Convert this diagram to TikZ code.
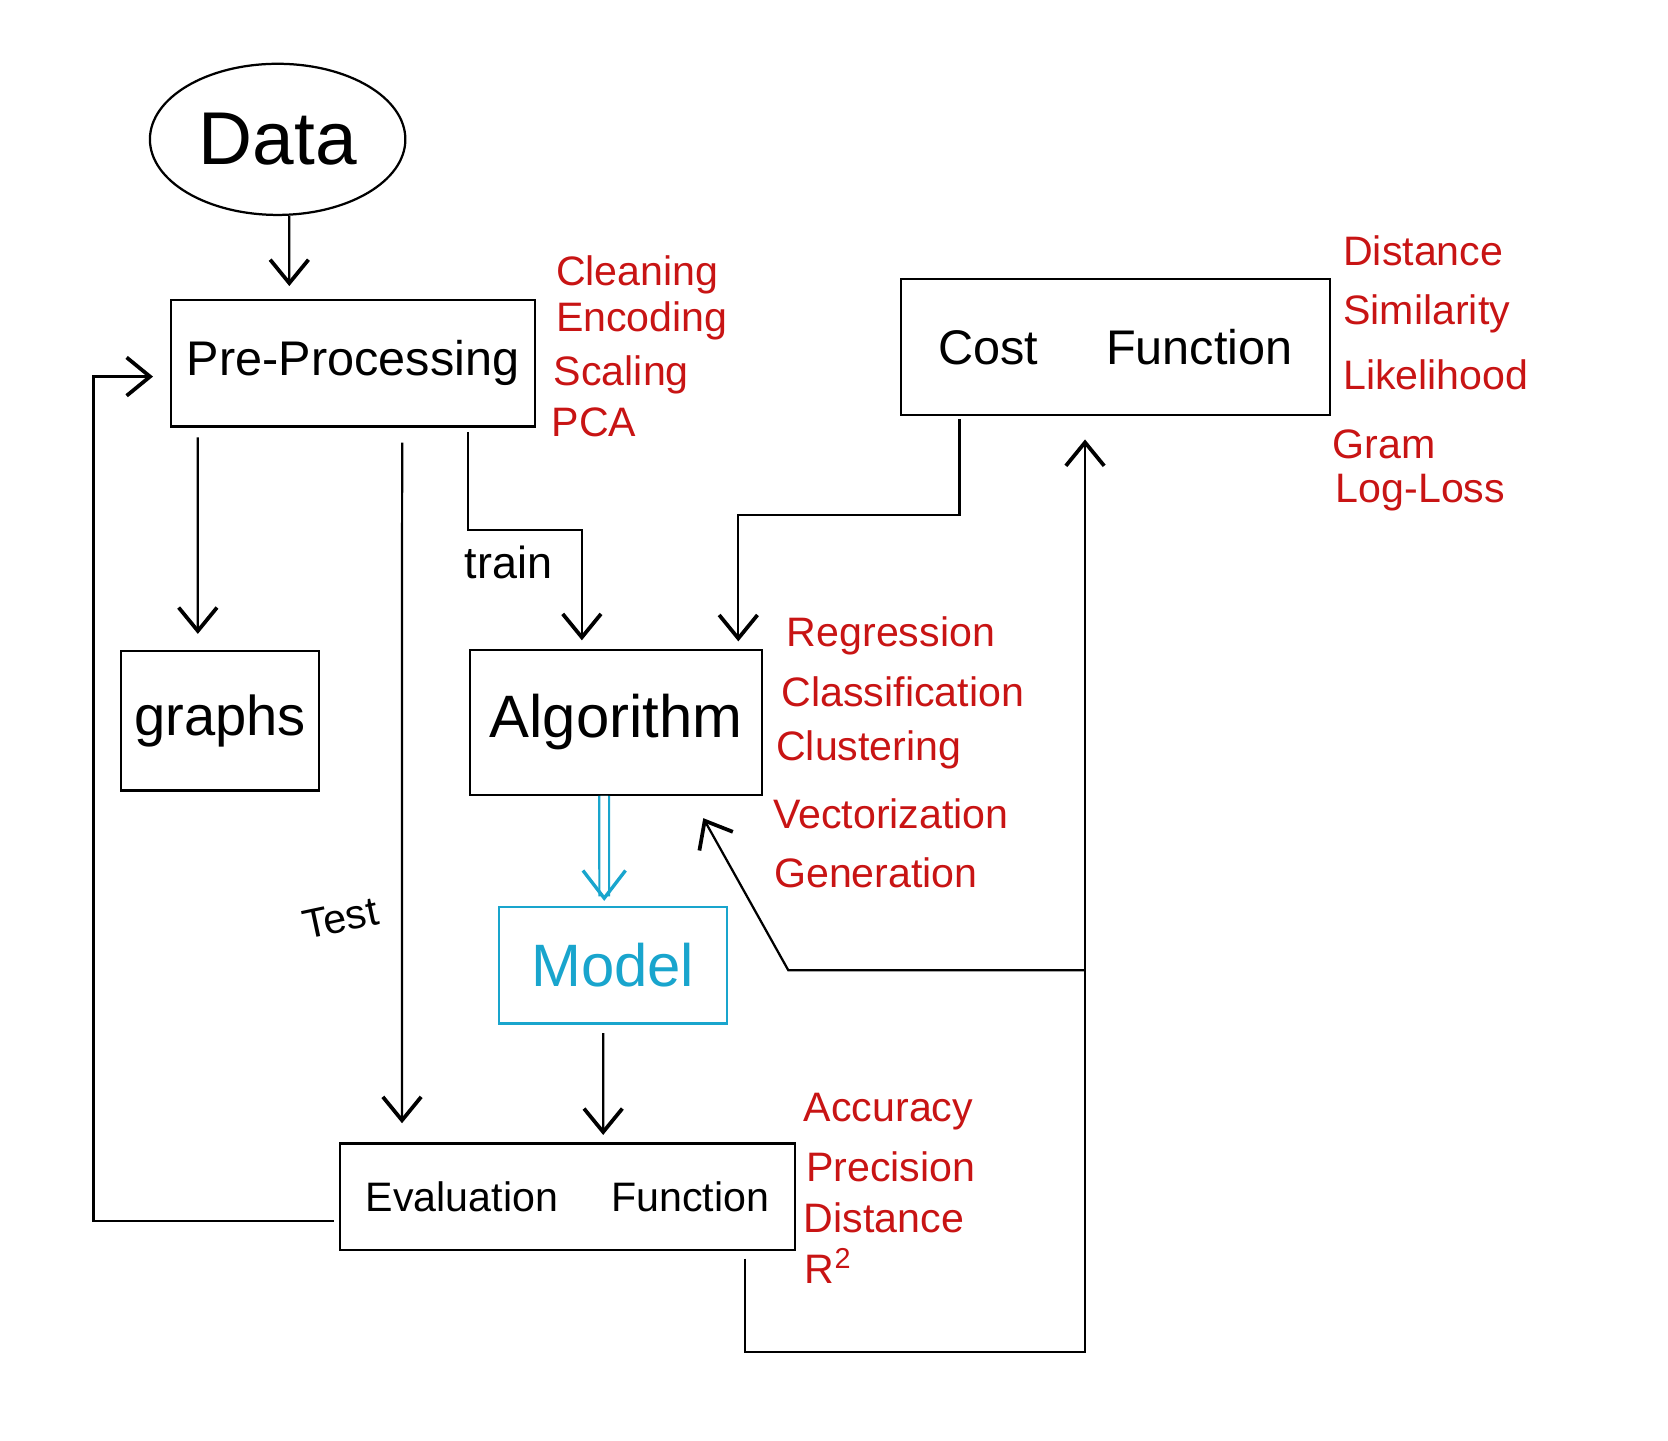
\documentclass[tikz,border=0pt]{standalone}
\usepackage{fontspec}
\setmainfont{Liberation Sans}
\usepackage{xcolor}
\usepackage{tikz}
\usetikzlibrary{shapes.geometric, arrows.meta, positioning, calc}
\definecolor{noteRed}{RGB}{200, 20, 20}
\definecolor{modelCyan}{RGB}{25, 165, 205}

\begin{document}
\begin{tikzpicture}[
    x=0.01cm, y=-0.01cm,
    box/.style={rectangle, draw, line width=0.6pt, inner sep=0pt, text centered},
    note/.style={anchor=west, inner sep=0pt, text=noteRed, font=\fontsize{11}{13}\selectfont},
    arr/.style={line width=0.6pt, -{Straight Barb[length=2.2mm, width=3.6mm, line width=1pt]}}
]
    \useasboundingbox (0,0) rectangle (1568,1354);

    \node[ellipse, draw, line width=0.6pt, inner sep=0pt, minimum width=2.4cm, minimum height=1.42cm, font=\fontsize{20}{20}\selectfont] (data) at (261,131) {Data};
    \node[box, minimum width=3.42cm, minimum height=1.19cm, font=\fontsize{13}{13}\selectfont] (pre) at (332,341.5) {Pre-Processing};
    \node[box, minimum width=4.03cm, minimum height=1.28cm, font=\fontsize{13}{13}\selectfont] (cost) at (1048.5,326) {Cost\hspace{1.4em}Function};
    \node[box, minimum width=1.86cm, minimum height=1.31cm, font=\fontsize{15}{15}\selectfont] (graphs) at (207,677.5) {graphs};
    \node[box, minimum width=2.74cm, minimum height=1.36cm, font=\fontsize{16}{16}\selectfont] (algo) at (579,679) {Algorithm};
    \node[box, draw=modelCyan, text=modelCyan, minimum width=2.14cm, minimum height=1.09cm, font=\fontsize{16}{16}\selectfont] (model) at (576,907.5) {Model};
    \node[box, minimum width=4.27cm, minimum height=1.0cm, font=\fontsize{11}{11}\selectfont] (eval) at (533.5,1125) {Evaluation\hspace{1.3em}Function};

    % notes next to the boxes
    \node[note] (clean) at (522,258) {Cleaning};
    \node[note] (encode) at (522,302) {Encoding};
    \node[note] (scale) at (520,352) {Scaling};
    \node[note] (pca) at (518,397) {PCA};

    \node[note] (dist) at (1262,236) {Distance};
    \node[note] (simil) at (1262,295) {Similarity};
    \node[note] (likel) at (1262,352) {Likelihood};
    \node[note] (gram) at (1252,418) {Gram};
    \node[note] (logloss) at (1255,463) {Log-Loss};

    \node[note] (regr) at (739,598) {Regression};
    \node[note] (classif) at (734,650) {Classification};
    \node[note] (clust) at (729,705) {Clustering};
    \node[note] (vector) at (726,765) {Vectorization};
    \node[note] (gener) at (727,820) {Generation};

    \node[note] (acc) at (755,1045) {Accuracy};
    \node[note] (prec) at (757,1097) {Precision};
    \node[note] (distB) at (755,1145) {Distance};
    \node[note] (rsq) at (756,1190) {R\textsuperscript{2}};

    \node[font=\fontsize{12}{12}\selectfont] (trainlbl) at (478,529) {train};
    \node[font=\fontsize{11}{11}\selectfont, rotate=12] (testlbl) at (320,863) {Test};

    % connectors
    \draw[arr] ([xshift=0.11cm]data.south) -- ([xshift=-0.6cm, yshift=0.12cm]pre.north);
    \draw[arr] ([xshift=-1.46cm, yshift=-0.09cm]pre.south) -- ([xshift=-0.21cm, yshift=0.15cm]graphs.north);
    \draw[arr] ([xshift=1.08cm, yshift=-0.04cm]pre.south) -- ++(0,92) -| ([xshift=-0.32cm, yshift=0.08cm]algo.north);
    \draw[arr] ([xshift=-1.465cm, yshift=-0.03cm]cost.south) -- ++(0,90) -| ([xshift=1.15cm, yshift=0.07cm]algo.north);
    \draw[modelCyan, line width=0.6pt, double, double distance=0.7mm, -{Straight Barb[length=2.6mm, width=4mm, line width=0.9pt]}] ([xshift=-0.11cm]algo.south) -- ([xshift=-0.08cm, yshift=0.05cm]model.north);
    \draw[arr] ([xshift=-0.09cm, yshift=-0.08cm]model.south) -- ([xshift=0.335cm, yshift=0.07cm]eval.north);
    \draw[arr] ([xshift=0.46cm, yshift=-0.14cm]pre.south) -- ([xshift=-1.555cm, yshift=0.18cm]eval.north);
    \draw[arr] ([xshift=-0.05cm, yshift=-0.23cm]eval.west) -- ++(-226,0) |- ([xshift=-0.16cm, yshift=-0.125cm]pre.west);
    \draw[arr] ([xshift=1.665cm, yshift=-0.07cm]eval.south) -- ++(0,88) -| ([xshift=-0.285cm, yshift=-0.22cm]cost.south);
    \coordinate (fork) at (1020,912);
    \draw[arr] (fork) -- ++(-279,0) -- ([xshift=-0.56cm, yshift=-0.21cm]algo.south east);
\end{tikzpicture}
\end{document}
